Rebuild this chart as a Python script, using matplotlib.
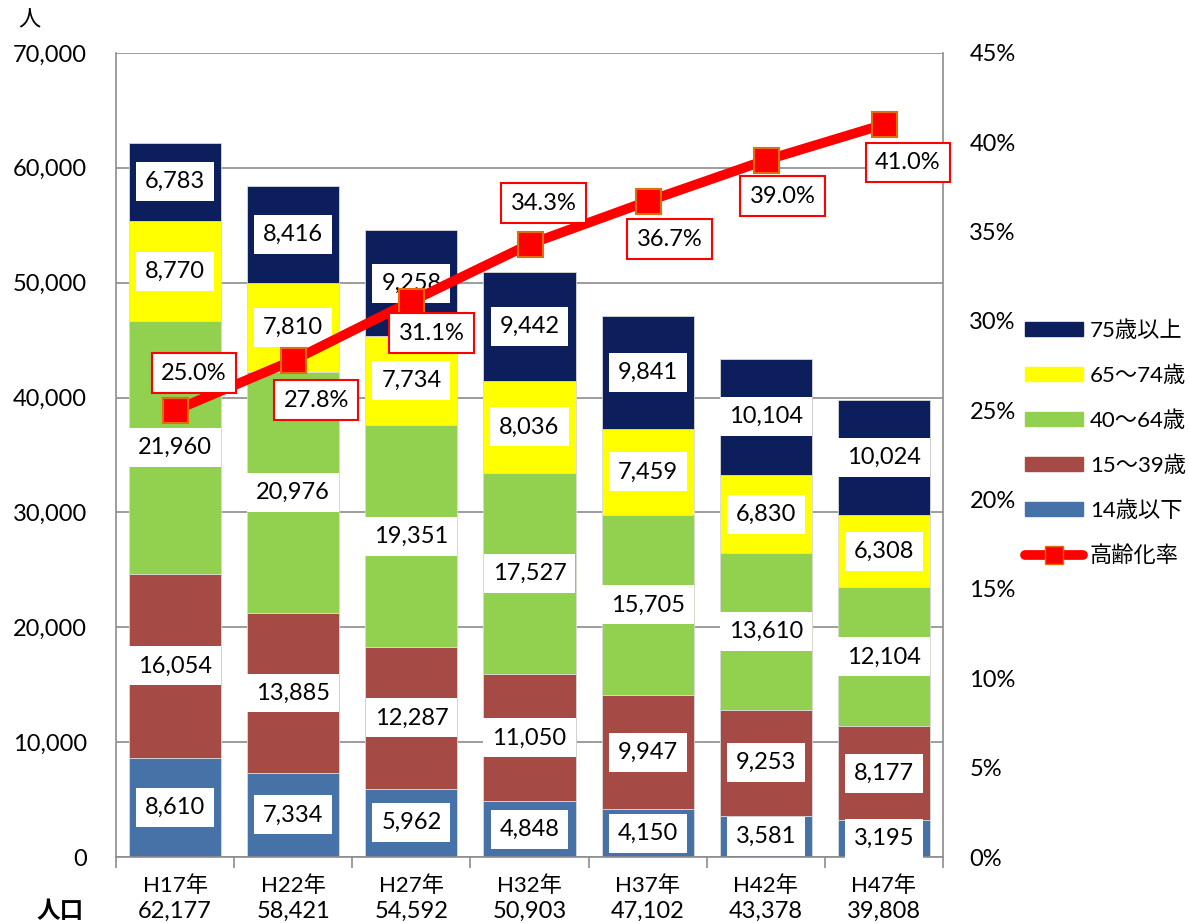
import matplotlib.pyplot as plt
from matplotlib.patches import Patch
from matplotlib.lines import Line2D
from matplotlib.ticker import FuncFormatter, MultipleLocator

plt.rcParams['font.family'] = ['Lato', 'Noto Sans CJK JP', 'DejaVu Sans']

years = ['H17年', 'H22年', 'H27年', 'H32年', 'H37年', 'H42年', 'H47年']
totals = ['62,177', '58,421', '54,592', '50,903', '47,102', '43,378', '39,808']
age_labels = ['14歳以下', '15〜39歳', '40〜64歳', '65〜74歳', '75歳以上']
u14 = [8610, 7334, 5962, 4848, 4150, 3581, 3195]
a15_39 = [16054, 13885, 12287, 11050, 9947, 9253, 8177]
a40_64 = [21960, 20976, 19351, 17527, 15705, 13610, 12104]
a65_74 = [8770, 7810, 7734, 8036, 7459, 6830, 6308]
o75 = [6783, 8416, 9258, 9442, 9841, 10104, 10024]
rate = [25.0, 27.8, 31.1, 34.3, 36.7, 39.0, 41.0]

colors = ['#4672A8', '#A64A46', '#92D050', '#FFFF00', '#0C1F5C']
series = [u14, a15_39, a40_64, a65_74, o75]

fig = plt.figure(figsize=(11.89, 9.23), dpi=100)
ax = fig.add_axes([0.0976, 0.0715, 0.6955, 0.8711])
x = list(range(len(years)))

bottom = [0] * len(years)
for vals, c in zip(series, colors):
    ax.bar(x, vals, 0.78, bottom=bottom, color=c, edgecolor='#d9d9d9', linewidth=0.6, zorder=2)
    for i, v in enumerate(vals):
        ax.text(i, bottom[i] + v / 2, f'{v:,}', ha='center', va='center', fontsize=17, zorder=3,
                bbox=dict(boxstyle='square,pad=0.38', fc='white', ec='none'))
    bottom = [b + v for b, v in zip(bottom, vals)]

ax.set_xlim(-0.5, 6.5)
ax.set_ylim(0, 70000)
ax.yaxis.set_major_locator(MultipleLocator(10000))
ax.yaxis.set_major_formatter(FuncFormatter(lambda v, p: f'{int(v):,}'))
ax.grid(axis='y', color='#8c8c8c', linewidth=1.2, zorder=0)
ax.set_axisbelow(True)
ax.tick_params(axis='y', length=0, labelsize=17, pad=21)
ax.set_xticks(x)
ax.set_xticklabels([])
ax.set_xticks([i - 0.5 for i in range(len(years) + 1)], minor=True)
ax.tick_params(axis='x', which='major', length=0)
ax.tick_params(axis='x', which='minor', length=8, color='#8c8c8c', width=1.2)
ax.spines['top'].set_visible(False)
for s in ['left', 'right', 'bottom']:
    ax.spines[s].set_color('#8c8c8c')
    ax.spines[s].set_linewidth(1.2)

trans = ax.get_xaxis_transform()
for i, (yr, t) in enumerate(zip(years, totals)):
    ax.text(i, -0.035, yr, transform=trans, ha='center', va='center', fontsize=16)
    ax.text(i, -0.067, t, transform=trans, ha='center', va='center', fontsize=17)
ax.text(-0.97, -0.067, '人口', transform=trans, ha='center', va='center', fontsize=17, fontweight='bold')
fig.text(0.015, 0.978, '人', fontsize=16, ha='left', va='center')

ax2 = ax.twinx()
ax2.set_ylim(0, 0.45)
ax2.yaxis.set_major_locator(MultipleLocator(0.05))
ax2.yaxis.set_major_formatter(FuncFormatter(lambda v, p: f'{v * 100:.0f}%'))
ax2.tick_params(axis='y', length=0, labelsize=17, pad=19)
for s in ['top', 'left', 'bottom', 'right']:
    ax2.spines[s].set_visible(False)
r = [v / 100 for v in rate]
ax2.plot(x, r, color='#FF0000', lw=7, marker='s', ms=18, mfc='#FF0000', mec='#E46C0A', mew=1.5,
         solid_capstyle='round', zorder=4)
offsets = [(19, 37), (23, -40), (20, -32), (14, 41), (22, -38), (17, -36), (24, -38)]
for i, (v, off) in enumerate(zip(r, offsets)):
    ax2.annotate(f'{rate[i]:.1f}%', (i, v), xytext=off, textcoords='offset pixels',
                 ha='center', va='center', fontsize=17, zorder=5,
                 bbox=dict(boxstyle='square,pad=0.4', fc='white', ec='#FF0000', lw=1.5))

handles = [Patch(color=c) for c in colors[::-1]]
handles.append(Line2D([], [], color='#FF0000', lw=7, marker='s', ms=13, mfc='#FF0000', mec='#E46C0A',
                      solid_capstyle='round'))
labels = age_labels[::-1] + ['高齢化率']
fig.legend(handles, labels, loc='center left', bbox_to_anchor=(0.855, 0.52), frameon=False,
           fontsize=16, handlelength=2.6, handleheight=0.6, labelspacing=1.1, handletextpad=0.3,
           borderaxespad=0)

fig.savefig('out.png', dpi=100)
